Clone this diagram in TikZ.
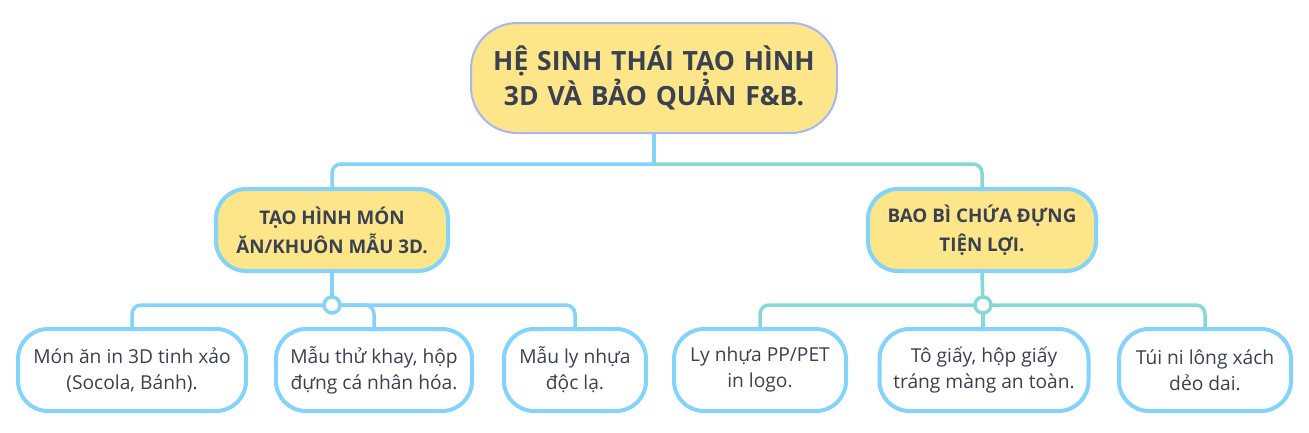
\documentclass[tikz,border=0pt]{standalone}
\usepackage{fontspec}
\setmainfont{Open Sans}
\usetikzlibrary{positioning}
\definecolor{yel}{HTML}{FDE589}
\definecolor{rootln}{HTML}{A5B7F6}
\definecolor{blu}{HTML}{84D3FA}
\definecolor{tea}{HTML}{84D9D8}
\definecolor{txt}{HTML}{3A4150}
\begin{document}
\begin{tikzpicture}[x=1pt,y=-1pt,
  rootbox/.style={draw=rootln,line width=2pt,fill=yel,rounded corners=46pt,
    minimum width=366pt,minimum height=110pt,text width=350pt,align=center,
    font=\bfseries\fontsize{26.5}{35}\selectfont,text=txt,inner sep=0pt},
  catbox/.style={draw=blu,line width=4pt,fill=yel,rounded corners=30pt,
    minimum height=82pt,align=center,
    font=\bfseries\fontsize{18.8}{29}\selectfont,text=txt,inner sep=0pt},
  leafbox/.style={draw=blu,line width=4pt,fill=white,rounded corners=30pt,
    minimum height=82pt,align=center,
    font=\fontsize{19.2}{26}\selectfont,text=txt,inner sep=0pt},
  bline/.style={draw=blu,line width=3.5pt,rounded corners=9pt},
  tline/.style={draw=tea,line width=3.5pt,rounded corners=9pt},
  hub/.style={circle,line width=3.5pt,fill=white,minimum size=16pt,inner sep=0pt}]
\useasboundingbox (0,0) rectangle (1309,432);
% root
\node[rootbox] (root) at (654,78) {HỆ SINH THÁI TẠO HÌNH\\3D VÀ BẢO QUẢN F\&B.};
% categories
\node[catbox,minimum width=232pt] (cL) at (332,230) {TẠO HÌNH MÓN\\ĂN/KHUÔN MẪU 3D.};
\node[catbox,minimum width=228pt] (cR) at (982,230) {BAO BÌ CHỨA ĐỰNG\\TIỆN LỢI.};
% leaves
\node[leafbox,minimum width=228pt] (l1) at (132,370) {Món ăn in 3D tinh xảo\\(Socola, Bánh).};
\node[leafbox,minimum width=196pt] (l2) at (374,370) {Mẫu thử khay, hộp\\đựng cá nhân hóa.};
\node[leafbox,minimum width=142pt] (l3) at (575,370) {Mẫu ly nhựa\\độc lạ.};
\node[leafbox,minimum width=172pt] (r1) at (760,370) {Ly nhựa PP/PET\\in logo.};
\node[leafbox,minimum width=209pt] (r2) at (984,370) {Tô giấy, hộp giấy\\tráng màng an toàn.};
\node[leafbox,minimum width=172pt] (r3) at (1205,370) {Túi ni lông xách\\dẻo dai.};
% root connectors
\coordinate (rj) at (654,164);
\draw[bline] (root.south) -- (rj);
\draw[bline] (rj) -| (cL.north);
\draw[tline] (rj) -| (cR.north);
% left hub
\coordinate (hL) at (332,305);
\draw[bline] (cL.south) -- (hL);
\draw[bline] (hL) -| (l1.north);
\draw[bline] (hL) -| (l2.north);
\draw[bline] (hL) -| (l3.north);
\node[hub,draw=blu] (hubL) at (hL) {};
% right hub
\coordinate (hR) at (983,305);
\draw[tline] (cR.south) -- (hR);
\draw[tline] (hR) -| (r1.north);
\draw[tline] (hR) -- (hR |- r2.north);
\draw[tline] (hR) -| (r3.north);
\node[hub,draw=tea] (hubR) at (hR) {};
\end{tikzpicture}
\end{document}
